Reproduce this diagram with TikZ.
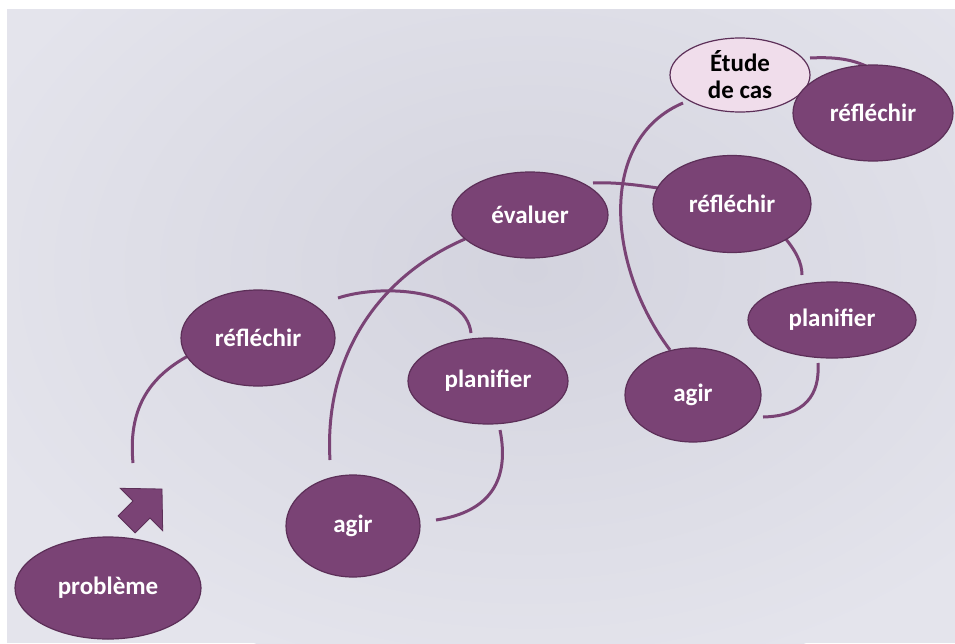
\documentclass[tikz,border=0pt]{standalone}
\usepackage{fontspec}
\setmainfont{Carlito}
\usetikzlibrary{shapes.geometric,calc}
\definecolor{plum}{HTML}{7A4375}
\definecolor{plumdark}{HTML}{5C2F58}
\definecolor{bgc}{HTML}{E4E4EC}
\definecolor{bgdark}{HTML}{D3D3DE}
\definecolor{pinkfill}{HTML}{F0DDEB}
\pgfdeclarelayer{bg}
\pgfdeclarelayer{lines}
\pgfsetlayers{bg,lines,main}
\begin{document}
\begin{tikzpicture}[x=1pt,y=-1pt,
  stage/.style={ellipse, fill=plum, draw=plumdark, line width=1.2pt, text=white,
    font=\fontsize{25}{27}\selectfont\bfseries, inner sep=0pt},
  casebox/.style={stage, fill=pinkfill, text=black, align=center},
  link/.style={draw=plum, line width=3pt},
  blockarrow/.style={fill=plum, draw=plumdark, line width=0.8pt, line join=miter},
]
\begin{pgfonlayer}{bg}
\fill[white] (0,0) rectangle (955,643);
\path[fill=bgc, path picture={
  \shade[inner color=bgdark, outer color=bgc] (530,270) ellipse [x radius=600, y radius=420];
}] (7,9) rectangle (955,643);
\end{pgfonlayer}
\useasboundingbox (0,0) rectangle (955,643);

\node[stage, minimum width=186pt, minimum height=102pt] (prob)  at (108,588) {problème};
\node[stage, minimum width=154pt, minimum height=96pt]  (refl1) at (258,338) {réfléchir};
\node[stage, minimum width=160pt, minimum height=86pt]  (plan1) at (488,381) {planifier};
\node[stage, minimum width=134pt, minimum height=102pt] (agir1) at (353,526) {agir};
\node[stage, minimum width=156pt, minimum height=86pt]  (eval)  at (530,215) {évaluer};
\node[stage, minimum width=158pt, minimum height=97pt]  (refl2) at (732,204) {réfléchir};
\node[stage, minimum width=168pt, minimum height=76pt]  (plan2) at (832,320) {planifier};
\node[stage, minimum width=136pt, minimum height=94pt]  (agir2) at (693,395) {agir};
\node[casebox, minimum width=140pt, minimum height=74pt] (etude) at (740,75) {Étude\\de cas};
\node[stage, minimum width=160pt, minimum height=96pt]  (refl3) at (873,113) {réfléchir};

\coordinate (start) at (133,463);

\begin{pgfonlayer}{lines}
\draw[link] (start) .. controls (128,410) and (148,378) .. ($(refl1)+(-70,18)$);
\draw[link] ($(refl1)+(80,-40)$) .. controls (380,284) and (466,288) .. ($(plan1)+(-17,-48)$);
\draw[link] ($(plan1)+(12,49)$) .. controls (510,480) and (490,512) .. ($(agir1)+(83,-6)$);
\draw[link] ($(agir1)+(-23,-66)$) .. controls (324,360) and (375,278) .. ($(eval)+(-65,24)$);
\draw[link] ($(eval)+(63,-32)$) .. controls (615,182) and (637,185) .. ($(refl2)+(-74,-16)$);
\draw[link] ($(refl2)+(53,34)$) .. controls (795,250) and (802,262) .. ($(plan2)+(-30,-45)$);
\draw[link] ($(plan2)+(-14,43)$) .. controls (820,395) and (805,416) .. ($(agir2)+(70,22)$);
\draw[link] ($(agir2)+(-23,-45)$) .. controls (608,268) and (596,140) .. ($(etude)+(-57,28)$);
\draw[link] ($(etude)+(70,-17)$) .. controls (830,57) and (850,58) .. ($(refl3)+(-5,-46)$);
\end{pgfonlayer}

\draw[blockarrow] (162,489) -- (162.7,530.7) -- (150,518) -- (135.1,532.9) -- (118.1,515.9) -- (133,501) -- (120.3,488.3) -- cycle;
\end{tikzpicture}
\end{document}
